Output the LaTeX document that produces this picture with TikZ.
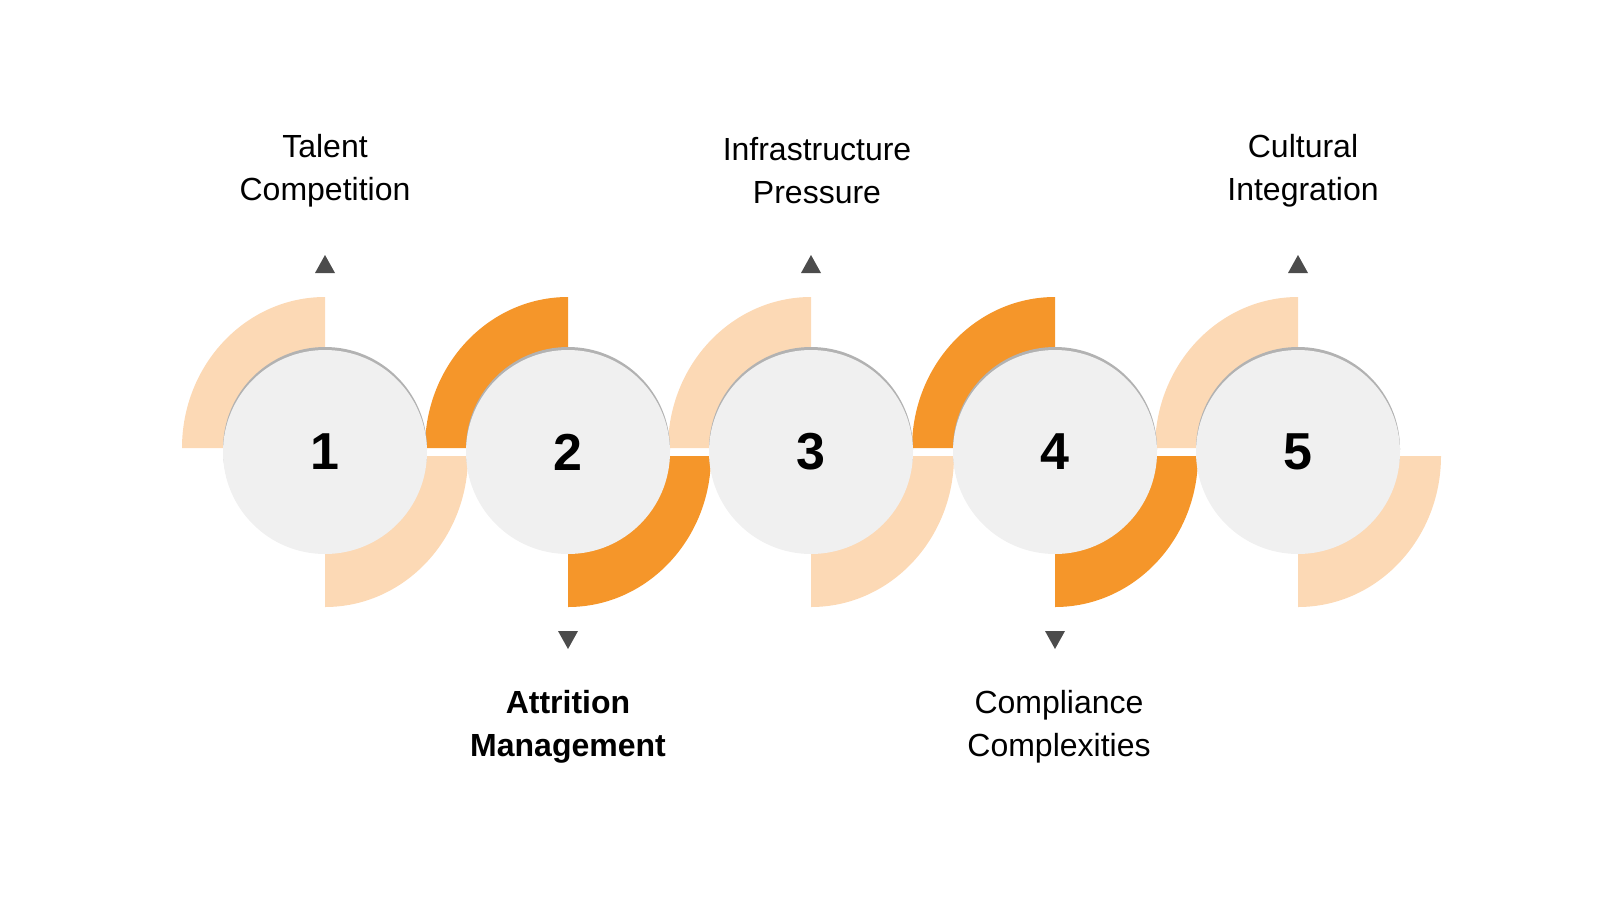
\documentclass[tikz,border=0pt]{standalone}
\usepackage{fontspec}
\setmainfont{Liberation Sans}
\begin{document}
\begin{tikzpicture}[x=1pt,y=-1pt,
  disc/.style={circle, minimum size=204pt, inner sep=0pt, fill=black!6,
    preaction={fill=black!30, transform canvas={yshift=3pt}}},
  numtxt/.style={font=\fontsize{52}{52}\selectfont\bfseries},
  lbl/.style={align=center, font=\fontsize{32}{43}\selectfont},
  tri/.style={fill=black!70}]
\useasboundingbox (0,0) rectangle (1600,900);
\definecolor{pe}{HTML}{FCD9B5}
\definecolor{or}{HTML}{F5962A}
\foreach \i/\c/\col in {1/325/pe,2/568/or,3/811/pe,4/1055/or,5/1298/pe}{
  \fill[\col] (\c,448) -- (\c-143,448) arc[start angle=180,end angle=90,x radius=143,y radius=-151] -- cycle;
  \fill[\col] (\c,456) -- (\c+143,456) arc[start angle=0,end angle=-90,x radius=143,y radius=-151] -- cycle;
}
\foreach \i/\c in {1/325,2/568,3/811,4/1055,5/1298}{
  \node[disc] (c\i) at (\c,452) {};
  \node[numtxt] at (c\i) {\i};
}
\foreach \c in {325,811,1298}{
  \fill[tri] (\c,255) -- (\c+10,273) -- (\c-10,273) -- cycle;
}
\foreach \c in {568,1055}{
  \fill[tri] (\c,649) -- (\c+10,631) -- (\c-10,631) -- cycle;
}
\node[lbl] (t1) at (325,171) {Talent\\Competition};
\node[lbl] (t3) at (817,171) {Infrastructure\\Pressure};
\node[lbl] (t5) at (1303,171) {Cultural\\Integration};
\node[lbl, font=\fontsize{32}{43}\selectfont\bfseries] (t2) at (568,727) {Attrition\\Management};
\node[lbl] (t4) at (1059,727) {Compliance\\Complexities};
\end{tikzpicture}
\end{document}
